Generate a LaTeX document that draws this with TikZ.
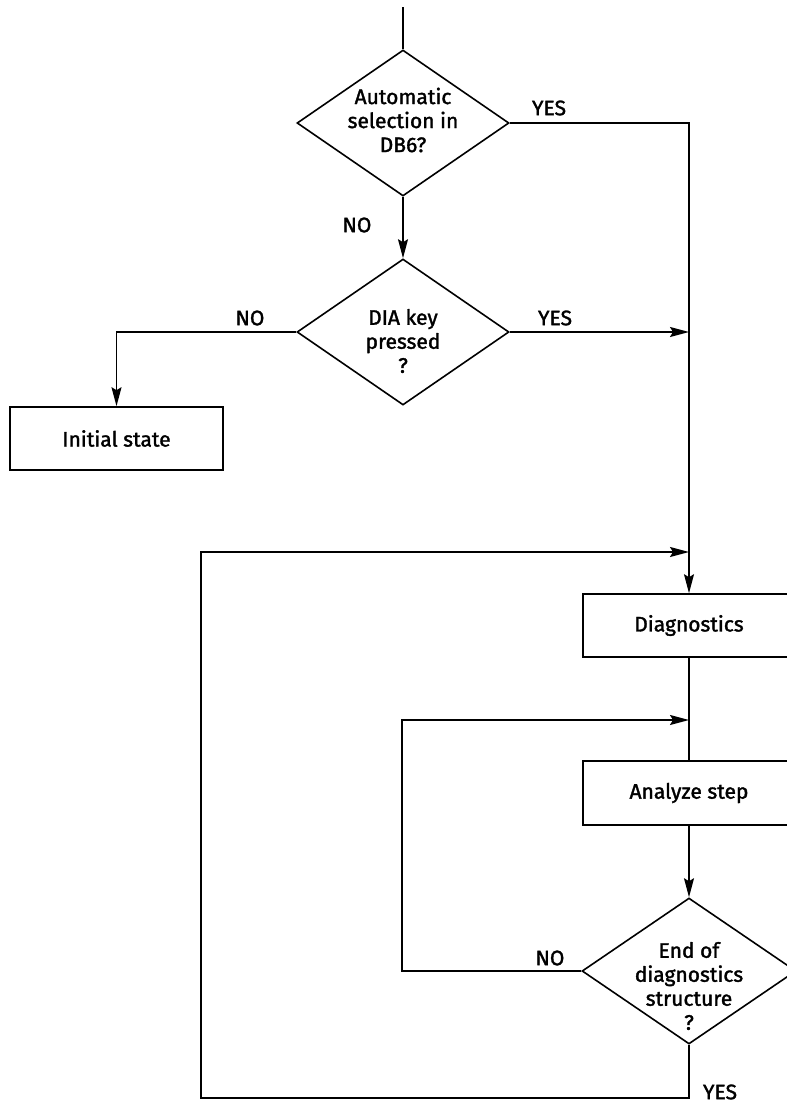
\documentclass[tikz,border=0pt]{standalone}
\usepackage{fontspec}
\setmainfont{Fira Sans}[FakeBold=1.6, UprightFeatures={FakeBold=1.6}]
\usetikzlibrary{shapes.geometric,arrows.meta}

\begin{document}
\begin{tikzpicture}[x=1pt,y=-1pt,
  line width=1.6pt,
  >={Stealth[length=19pt,width=10pt,inset=3pt]},
  every node/.style={font=\fontsize{21}{24}\selectfont},
  decision/.style={diamond,draw,inner sep=0pt,minimum width=212pt,minimum height=146pt},
  process/.style={rectangle,draw,inner sep=0pt,minimum width=212pt,minimum height=63pt},
  txt/.style={align=center,inner sep=0pt},
  lbl/.style={inner sep=0pt}]

  % page frame
  \useasboundingbox (0,0) rectangle (787,1104);
  \fill[white] (0,0) rectangle (787,1104);
  \clip (0,0) rectangle (787,1104);

  % decisions
  \node[decision] (d1) at (403,123) {};
  \node[txt] (t1) at (403,120) {Automatic\\selection in\\DB6?};
  \node[decision] (d2) at (403,332) {};
  \node[txt] (t2) at (403,341) {DIA key\\pressed\\?};
  \node[decision, minimum width=214pt] (d3) at (689,971) {};
  \node[txt] (t3) at (689,986) {End of\\diagnostics\\structure\\[0pt]?};

  % processes
  \node[process, minimum width=213pt] (init) at (116.5,438.5) {Initial state};
  \node[process] (diag) at (689,625.5) {Diagnostics};
  \node[process, minimum height=64pt] (anal) at (689,793) {Analyze step};

  % branch labels
  \node[lbl] (y1) at (549,108) {YES};
  \node[lbl] (n1) at (357,225) {NO};
  \node[lbl] (n2) at (250,318) {NO};
  \node[lbl] (y2) at (555,318) {YES};
  \node[lbl] (n3) at (550,958) {NO};
  \node[lbl] (y3) at (720,1092) {YES};

  % helper points
  \coordinate (start) at (403,7);
  \coordinate (j1) at (689,332);
  \coordinate (lb) at (201,1098);
  \coordinate (lt) at (201,552);
  \coordinate (m1) at (689,552);
  \coordinate (il) at (402,720);
  \coordinate (m2) at (689,720);

  % connectors
  \draw (start) -- (d1.north);
  \draw[->] (d1.south) -- (d2.north);
  \draw[->] (d1.east) -| (diag.north);
  \draw[->] (d2.east) -- (j1);
  \draw[->] (d2.west) -| (init.north);
  \draw (diag.south) -- (anal.north);
  \draw[->] (anal.south) -- (d3.north);
  \draw[->] (d3.west) -| (il) -- (m2);
  \draw[->] (d3.south) |- (lb) -- (lt) -- (m1);
\end{tikzpicture}
\end{document}
